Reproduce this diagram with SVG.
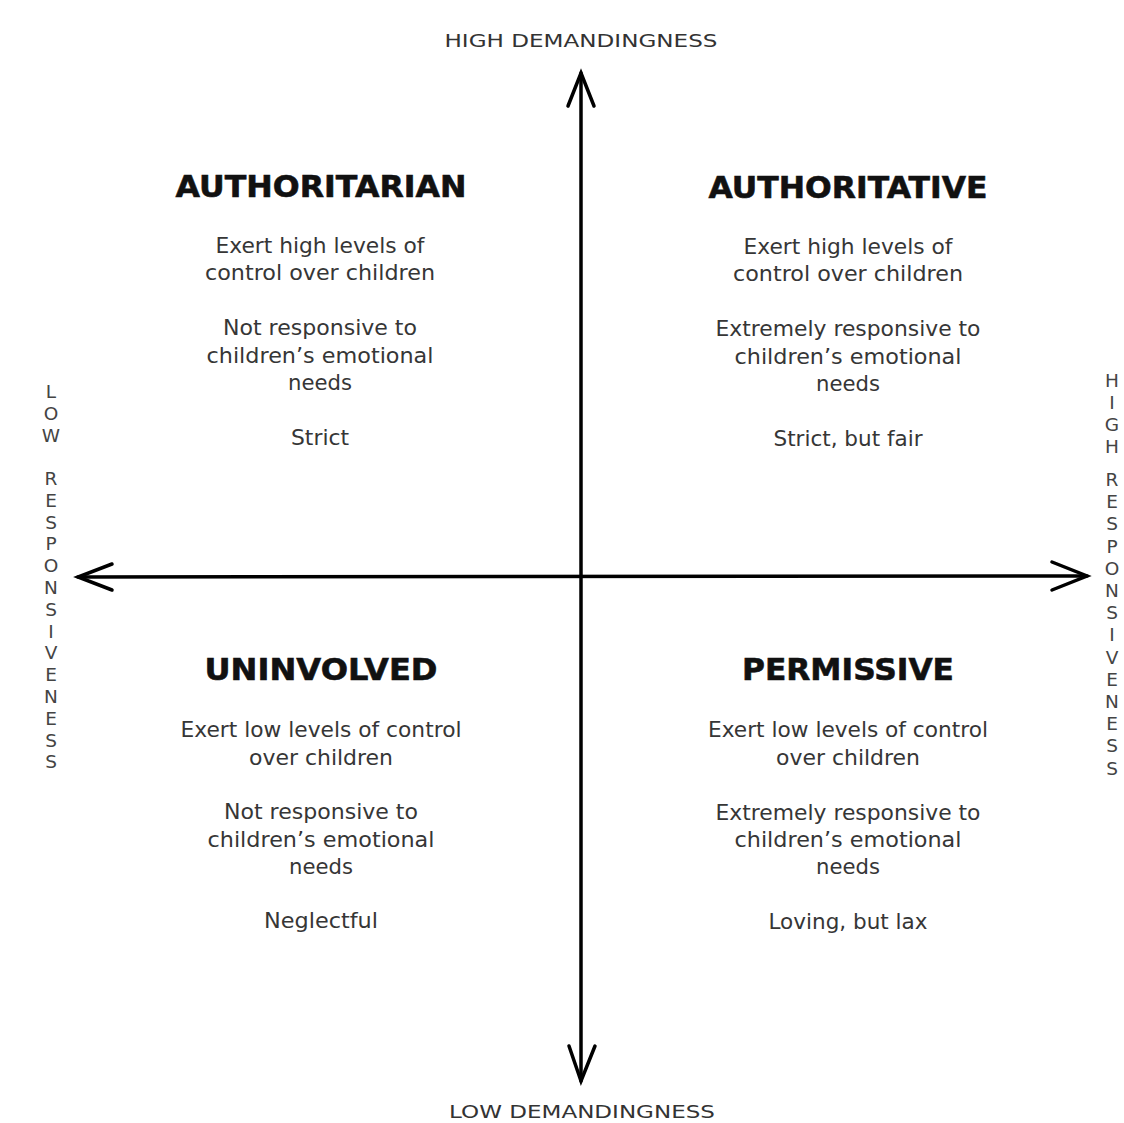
<svg xmlns="http://www.w3.org/2000/svg" width="1124" height="1123" viewBox="0 0 1124 1123">
  <style>
    .head { font-family: "DejaVu Sans", "Liberation Sans", sans-serif; font-weight: bold; font-size: 31px; fill: #111; stroke: #111; stroke-width: 0.6; text-anchor: middle; }
    .body { font-family: "DejaVu Sans", "Liberation Sans", sans-serif; font-size: 20.5px; fill: #363636; text-anchor: middle; }
    .axis { font-family: "DejaVu Sans", "Liberation Sans", sans-serif; font-size: 18.5px; fill: #333; text-anchor: middle; }
    .vert { font-family: "DejaVu Sans", "Liberation Sans", sans-serif; font-size: 18.5px; fill: #444; text-anchor: middle; }
    .axisline { stroke: #000; stroke-width: 3.5; fill: none; stroke-linecap: round; stroke-linejoin: miter; }
  </style>
  <rect width="1124" height="1123" fill="#fff"/>

  <!-- axes -->
  <g id="connectors">
    <line class="axisline" x1="581" y1="73" x2="581" y2="1081"/>
    <polyline class="axisline" points="568,106 581,73 594,106"/>
    <polyline class="axisline" points="569,1046 581,1081 595,1046"/>
    <line class="axisline" x1="78" y1="577" x2="1087" y2="576"/>
    <polyline class="axisline" points="112,564 78,577 112,590"/>
    <polyline class="axisline" points="1052,562 1087,576 1052,590"/>
  </g>

  <!-- axis labels -->
  <g id="label-high-demandingness">
    <text class="axis" x="581" y="47" textLength="273" lengthAdjust="spacingAndGlyphs">HIGH DEMANDINGNESS</text>
  </g>
  <g id="label-low-demandingness">
    <text class="axis" x="582" y="1118" textLength="266" lengthAdjust="spacingAndGlyphs">LOW DEMANDINGNESS</text>
  </g>
  <g id="label-low-responsiveness" class="vert">
    <text x="51" y="398">L</text>
    <text x="51" y="419.8">O</text>
    <text x="51" y="441.6">W</text>
    <text x="51" y="485">R</text>
    <text x="51" y="506.8">E</text>
    <text x="51" y="528.6">S</text>
    <text x="51" y="550.4">P</text>
    <text x="51" y="572.2">O</text>
    <text x="51" y="594">N</text>
    <text x="51" y="615.8">S</text>
    <text x="51" y="637.6">I</text>
    <text x="51" y="659.4">V</text>
    <text x="51" y="681.2">E</text>
    <text x="51" y="703">N</text>
    <text x="51" y="724.8">E</text>
    <text x="51" y="746.6">S</text>
    <text x="51" y="768.4">S</text>
  </g>
  <g id="label-high-responsiveness" class="vert">
    <text x="1112" y="387">H</text>
    <text x="1112" y="409">I</text>
    <text x="1112" y="431">G</text>
    <text x="1112" y="453">H</text>
    <text x="1112" y="486">R</text>
    <text x="1112" y="508">E</text>
    <text x="1112" y="530">S</text>
    <text x="1112" y="553">P</text>
    <text x="1112" y="575">O</text>
    <text x="1112" y="597">N</text>
    <text x="1112" y="619">S</text>
    <text x="1112" y="641">I</text>
    <text x="1112" y="664">V</text>
    <text x="1112" y="686">E</text>
    <text x="1112" y="708">N</text>
    <text x="1112" y="730">E</text>
    <text x="1112" y="752">S</text>
    <text x="1112" y="775">S</text>
  </g>

  <!-- quadrants -->
  <g id="authoritarian">
    <text class="head" x="321" y="197" textLength="291" lengthAdjust="spacingAndGlyphs">AUTHORITARIAN</text>
    <text class="body" x="320" y="253" textLength="209" lengthAdjust="spacingAndGlyphs">Exert high levels of</text>
    <text class="body" x="320" y="280" textLength="230" lengthAdjust="spacingAndGlyphs">control over children</text>
    <text class="body" x="320" y="335" textLength="194" lengthAdjust="spacingAndGlyphs">Not responsive to</text>
    <text class="body" x="320" y="363" textLength="227" lengthAdjust="spacingAndGlyphs">children’s emotional</text>
    <text class="body" x="320" y="390" textLength="64" lengthAdjust="spacingAndGlyphs">needs</text>
    <text class="body" x="320" y="445" textLength="58" lengthAdjust="spacingAndGlyphs">Strict</text>
  </g>

  <g id="authoritative">
    <text class="head" x="848" y="198" textLength="279" lengthAdjust="spacingAndGlyphs">AUTHORITATIVE</text>
    <text class="body" x="848" y="254" textLength="209" lengthAdjust="spacingAndGlyphs">Exert high levels of</text>
    <text class="body" x="848" y="281" textLength="230" lengthAdjust="spacingAndGlyphs">control over children</text>
    <text class="body" x="848" y="336" textLength="265" lengthAdjust="spacingAndGlyphs">Extremely responsive to</text>
    <text class="body" x="848" y="364" textLength="227" lengthAdjust="spacingAndGlyphs">children’s emotional</text>
    <text class="body" x="848" y="391" textLength="64" lengthAdjust="spacingAndGlyphs">needs</text>
    <text class="body" x="848" y="446" textLength="149" lengthAdjust="spacingAndGlyphs">Strict, but fair</text>
  </g>

  <g id="uninvolved">
    <text class="head" x="321" y="680" textLength="233" lengthAdjust="spacingAndGlyphs">UNINVOLVED</text>
    <text class="body" x="321" y="737" textLength="281" lengthAdjust="spacingAndGlyphs">Exert low levels of control</text>
    <text class="body" x="321" y="765" textLength="144" lengthAdjust="spacingAndGlyphs">over children</text>
    <text class="body" x="321" y="819" textLength="194" lengthAdjust="spacingAndGlyphs">Not responsive to</text>
    <text class="body" x="321" y="847" textLength="227" lengthAdjust="spacingAndGlyphs">children’s emotional</text>
    <text class="body" x="321" y="874" textLength="64" lengthAdjust="spacingAndGlyphs">needs</text>
    <text class="body" x="321" y="928" textLength="114" lengthAdjust="spacingAndGlyphs">Neglectful</text>
  </g>

  <g id="permissive">
    <text class="head" x="848" y="680" textLength="212" lengthAdjust="spacingAndGlyphs">PERMISSIVE</text>
    <text class="body" x="848" y="737" textLength="280" lengthAdjust="spacingAndGlyphs">Exert low levels of control</text>
    <text class="body" x="848" y="765" textLength="144" lengthAdjust="spacingAndGlyphs">over children</text>
    <text class="body" x="848" y="820" textLength="265" lengthAdjust="spacingAndGlyphs">Extremely responsive to</text>
    <text class="body" x="848" y="847" textLength="227" lengthAdjust="spacingAndGlyphs">children’s emotional</text>
    <text class="body" x="848" y="874" textLength="64" lengthAdjust="spacingAndGlyphs">needs</text>
    <text class="body" x="848" y="929" textLength="159" lengthAdjust="spacingAndGlyphs">Loving, but lax</text>
  </g>
</svg>
